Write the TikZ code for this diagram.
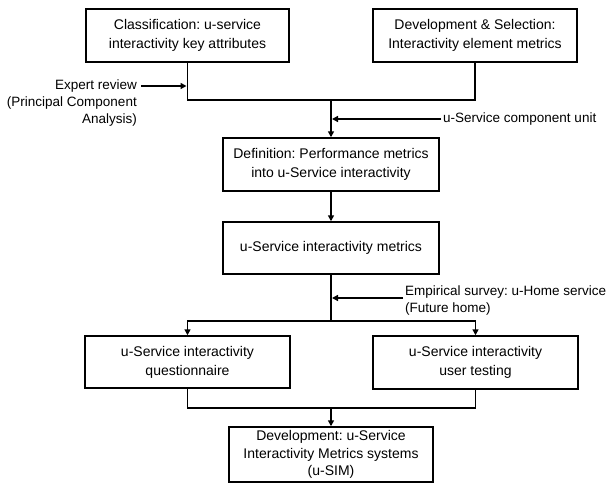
\documentclass[tikz,border=0pt]{standalone}
\usepackage{fontspec}
\setmainfont{Liberation Sans}
\frenchspacing
\usetikzlibrary{arrows.meta}
\begin{document}
\begin{tikzpicture}[x=1pt,y=-1pt,
  box/.style={draw=black,line width=1.5pt,inner sep=0pt,align=center,
    font=\fontsize{14}{19}\selectfont},
  lbl/.style={inner sep=0pt,font=\fontsize{13.5}{17}\selectfont},
  conn/.style={line width=1.5pt},
  arr/.style={line width=1.5pt,-{Triangle[length=6pt,width=6pt]}}]
\useasboundingbox (0,0) rectangle (609,484);
% boxes
\node[box,minimum width=203pt,minimum height=53pt] (b1) at (187.5,35.5)
  {Classification: u-service\\interactivity key attributes};
\node[box,minimum width=204pt,minimum height=53pt] (b2) at (475,35.5)
  {Development \& Selection:\\Interactivity element metrics};
\node[box,minimum width=216pt,minimum height=53pt] (b3) at (331,164.5)
  {Definition: Performance metrics\\into u-Service interactivity};
\node[box,minimum width=216pt,minimum height=52pt] (b4) at (331,248)
  {u-Service interactivity metrics};
\node[box,minimum width=205pt,minimum height=52pt] (b5) at (187.5,362)
  {u-Service interactivity\\questionnaire};
\node[box,minimum width=205pt,minimum height=53pt] (b6) at (475.5,362.5)
  {u-Service interactivity\\user testing};
\node[box,minimum width=204pt,minimum height=55pt,
  font=\fontsize{14}{17.5}\selectfont] (b7) at (331,454.5)
  {Development: u-Service\\Interactivity Metrics systems\\(u-SIM)};
% side labels
\node[lbl,anchor=east] (er) at (137,86) {Expert review};
\node[lbl,anchor=east,align=right] (pca) at (137,111.5) {(Principal Component\\Analysis)};
\node[lbl,anchor=west] (uc) at (443,119) {u-Service component unit};
\node[lbl,anchor=west,align=left] (es) at (405,300.5) {Empirical survey: u-Home service\\(Future home)};
% coordinates
\coordinate (m1) at (331,100);
\coordinate (ert) at (187.5,86);
\coordinate (uct) at (331,119);
\coordinate (s1) at (331,321);
\coordinate (esa) at (403,298);
\coordinate (est) at (331,298);
\coordinate (m2) at (331,408);
% connectors
\draw[conn] (b1.south) |- (m1) -| (b2.south);
\draw[arr] (m1) -- (b3.north);
\draw[arr,shorten >=1pt] ([xshift=4pt]er.east) -- (ert);
\draw[arr,shorten >=1pt] ([xshift=-2pt]uc.west) -- (uct);
\draw[arr] (b3.south) -- (b4.north);
\draw[conn] (b4.south) -- (s1);
\draw[arr] (s1) -| (b5.north);
\draw[arr] (s1) -| (b6.north);
\draw[arr,shorten >=1pt] (esa) -- (est);
\draw[conn] (b5.south) |- (m2) -| (b6.south);
\draw[arr] (m2) -- (b7.north);
\end{tikzpicture}
\end{document}
